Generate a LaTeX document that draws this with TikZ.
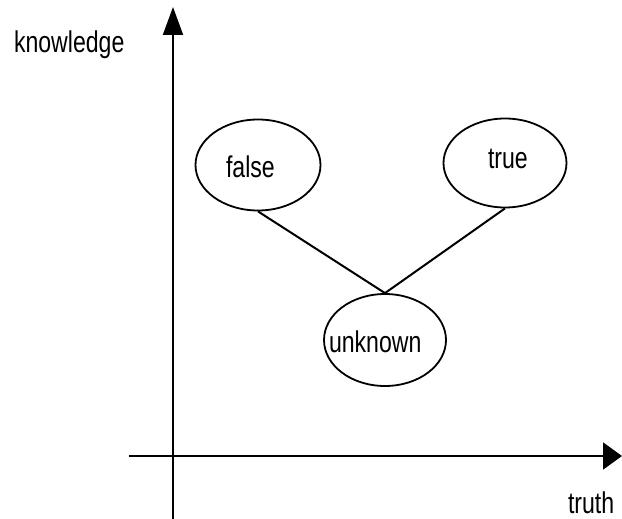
\documentclass[tikz,border=0pt]{standalone}
\usepackage{fontspec}
\setmainfont{Liberation Sans}[FakeStretch=0.77]
\usetikzlibrary{arrows.meta,shapes.geometric}
\begin{document}
\begin{tikzpicture}[x=1pt, y=-1pt, line width=2pt,
  every node/.style={font=\fontsize{30}{36}\selectfont, inner sep=0pt},
  state/.style={draw, ellipse, line width=1.8pt}]
\useasboundingbox (0,0) rectangle (622,519);
% osy: znalost nahoru, pravdivost doprava
\coordinate (kbot) at (173,519);
\coordinate (ktip) at (173,7);
\coordinate (tleft) at (129,456);
\coordinate (ttip) at (622,456);
\draw[-{Triangle[length=28pt,width=20pt]}] (kbot) -- (ktip);
\draw[-{Triangle[length=19pt,width=27pt]}] (tleft) -- (ttip);
\node[anchor=base west] (klab) at (13,53) {knowledge};
\node[anchor=base west] (tlab) at (567,513) {truth};
% stavy
\node[state, minimum width=125pt, minimum height=91pt] (false) at (258,165) {};
\node[state, minimum width=123pt, minimum height=89pt] (true) at (505,163) {};
\node[state, minimum width=122pt, minimum height=92pt] (unknown) at (385,340) {};
\node[anchor=base west] (flab) at (225,178) {false};
\node[anchor=base west] (trlab) at (487,168) {true};
\node[anchor=base west] (ulab) at (328,352) {unknown};
\draw (false.south) -- (unknown.north);
\draw (true.south) -- (unknown.north);
\end{tikzpicture}
\end{document}
